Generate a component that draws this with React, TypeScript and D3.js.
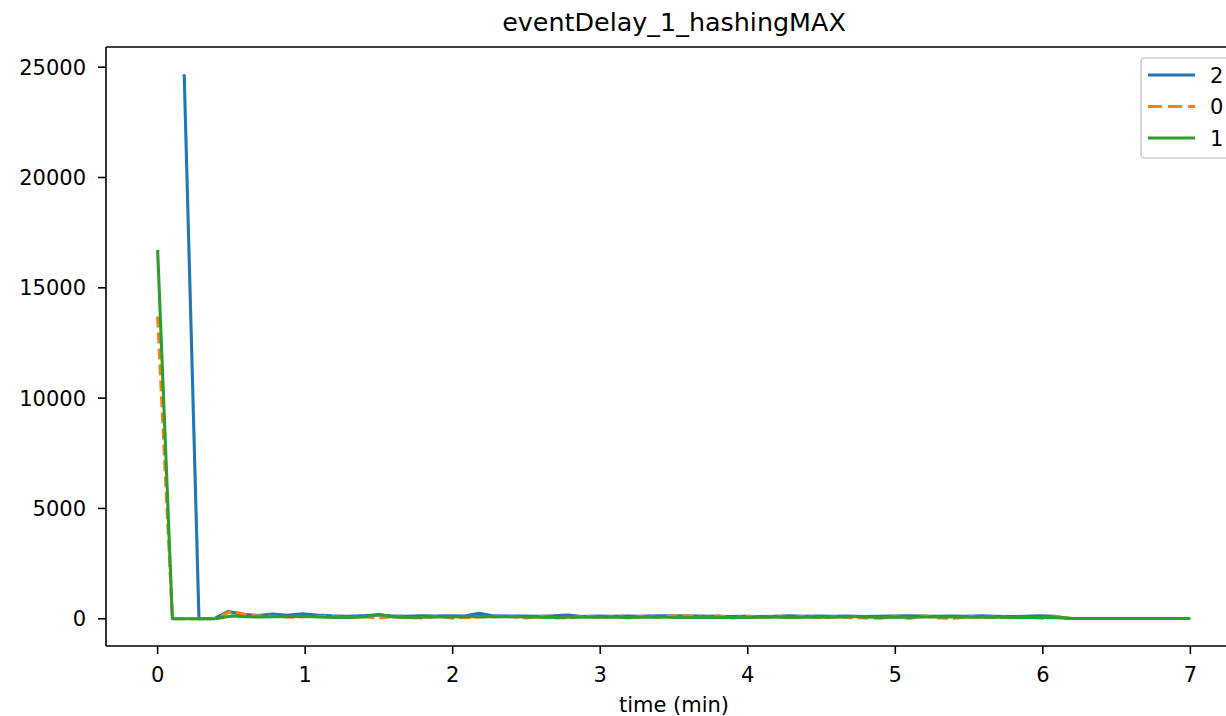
import React from "react";
import * as d3 from "d3";

const TITLE = "eventDelay_1_hashingMAX";
const X_LABEL = "time (min)";
const X_TICKS = [0, 1, 2, 3, 4, 5, 6, 7];
const Y_TICKS = [0, 5000, 10000, 15000, 20000, 25000];

// series "2" (blue) sampled every 0.1 min starting at 0.18 min
const SERIES_2_START = 0.18;
const SERIES_2 = [
  24680, 0, 0, 330, 200, 150, 210, 160, 230, 170,
  130, 110, 140, 170, 130, 110, 140, 120, 130, 120,
  250, 130, 120, 120, 110, 130, 170, 100, 120, 110,
  120, 110, 130, 140, 120, 120, 110, 100, 110, 100,
  110, 130, 110, 120, 110, 120, 100, 110, 120, 140,
  120, 110, 120, 110, 130, 110, 100, 110, 130, 110,
  10, 10, 10, 10, 10, 10, 10, 10, 10,
];

// series "0" (orange, dashed) sampled every 0.1 min from 0
const SERIES_0 = [
  13700, 0, 0, 0, 20, 350, 180, 120, 100, 70,
  90, 110, 80, 60, 90, 30, 100, 50, 40, 110,
  30, 60, 80, 100, 90, 40, 100, 40, 50, 120,
  60, 110, 40, 120, 60, 140, 130, 60, 140, 40,
  110, 60, 100, 50, 120, 40, 90, 50, 40, 30,
  90, 20, 120, 40, 20, 100, 60, 80, 40, 70,
  30, 100, 10, 10, 10, 10, 10, 10, 10, 10, 10,
];

// series "1" (green) sampled every 0.1 min from 0
const SERIES_1 = [
  16720, 0, 0, 0, 10, 130, 90, 80, 90, 100,
  110, 80, 60, 60, 80, 200, 80, 60, 70, 90,
  80, 90, 100, 90, 90, 80, 70, 60, 80, 70,
  80, 70, 60, 70, 80, 60, 60, 60, 70, 60,
  60, 70, 70, 60, 70, 80, 70, 100, 80, 60,
  70, 70, 80, 80, 80, 70, 80, 70, 60, 70,
  60, 50, 10, 10, 10, 10, 10, 10, 10, 10, 10,
];

const STEP = 0.1;

const SERIES = [
  { name: "2", values: SERIES_2, start: SERIES_2_START, color: "#1f77b4", dash: "" },
  { name: "0", values: SERIES_0, start: 0, color: "#ff7f0e", dash: "11,5" },
  { name: "1", values: SERIES_1, start: 0, color: "#2ca02c", dash: "" },
];

const W = 1226;
const H = 716;
const L = 106, R = 1242, T = 47, B = 646;
const FONT = "'DejaVu Sans', sans-serif";
const FS = 21;

export default function App() {
  const x = d3.scaleLinear().domain([-0.35, 7.35]).range([L, R]);
  const y = d3.scaleLinear().domain([-1234, 25914]).range([B, T]);
  const line = d3
    .line<[number, number]>()
    .x((d) => x(d[0]))
    .y((d) => y(d[1]));

  return (
    <svg
      width={W}
      height={H}
      style={{ position: "absolute", left: 0, top: 0, background: "#fff" }}
      fontFamily={FONT}
    >
      <defs>
        <clipPath id="plot">
          <rect x={L} y={T} width={R - L} height={B - T} />
        </clipPath>
      </defs>
      <rect x={0} y={0} width={W} height={H} fill="#fff" />
      <g clipPath="url(#plot)">
        {SERIES.map((s) => (
          <path
            key={s.name}
            d={line(s.values.map((v, i) => [s.start + i * STEP, v])) || ""}
            fill="none"
            stroke={s.color}
            strokeWidth={3.1}
            strokeDasharray={s.dash || undefined}
            strokeLinejoin="round"
          />
        ))}
      </g>
      {/* spines */}
      <g stroke="#000" strokeWidth={1.6} fill="none">
        <line x1={L} y1={T} x2={R} y2={T} />
        <line x1={L} y1={B} x2={R} y2={B} />
        <line x1={L} y1={T} x2={L} y2={B} />
      </g>
      {/* x ticks */}
      {X_TICKS.map((t) => (
        <g key={"x" + t}>
          <line x1={x(t)} x2={x(t)} y1={B} y2={B + 8} stroke="#000" strokeWidth={1.6} />
          <text x={x(t)} y={682} textAnchor="middle" fontSize={FS} fill="#000">
            {d3.format("d")(t)}
          </text>
        </g>
      ))}
      {/* y ticks */}
      {Y_TICKS.map((t) => (
        <g key={"y" + t}>
          <line x1={L - 8} x2={L} y1={y(t)} y2={y(t)} stroke="#000" strokeWidth={1.6} />
          <text
            x={86}
            y={y(t)}
            dy="0.36em"
            textAnchor="end"
            fontSize={FS}
            fill="#000"
          >
            {t}
          </text>
        </g>
      ))}
      <text x={(L + R) / 2} y={712} textAnchor="middle" fontSize={FS} fill="#000">
        {X_LABEL}
      </text>
      <text x={(L + R) / 2} y={31} textAnchor="middle" fontSize={25.4} fill="#000">
        {TITLE}
      </text>
      {/* legend */}
      <g>
        <rect
          x={1141}
          y={58}
          width={110}
          height={100}
          rx={4}
          fill="#fff"
          fillOpacity={0.8}
          stroke="#ccc"
          strokeWidth={1.6}
        />
        {SERIES.map((s, i) => (
          <g key={"lg" + s.name}>
            <line
              x1={1148}
              x2={1195}
              y1={75 + i * 31.5}
              y2={75 + i * 31.5}
              stroke={s.color}
              strokeWidth={3.1}
              strokeDasharray={s.dash ? "14,6" : undefined}
            />
            <text x={1210} y={75 + i * 31.5} dy="0.36em" fontSize={FS} fill="#000">
              {s.name}
            </text>
          </g>
        ))}
      </g>
    </svg>
  );
}
